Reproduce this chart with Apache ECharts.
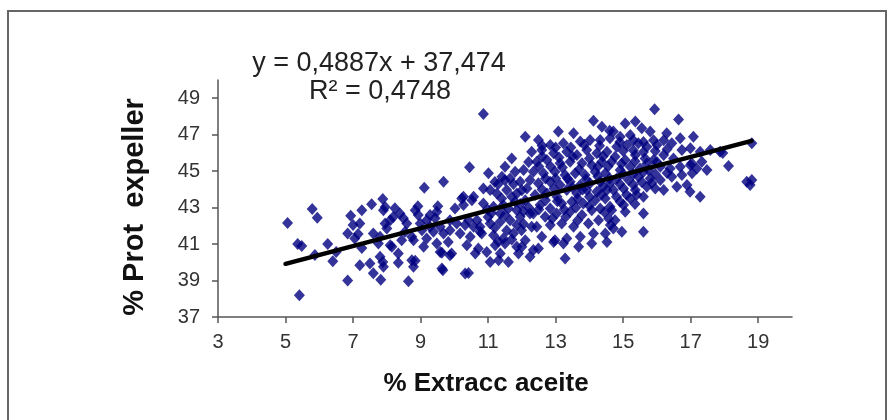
<!DOCTYPE html>
<html>
<head>
<meta charset="utf-8">
<script src="https://cdn.jsdelivr.net/npm/echarts@6/dist/echarts.min.js"></script>
<style>
  html, body { margin: 0; padding: 0; background: #fff; }
  #chart { width: 894px; height: 420px; }
</style>
</head>
<body>
<div id="chart"></div>
<script>
// puntos: [% extracc aceite, % prot expeller]
const samples = [
  [5.06,42.16],[5.79,42.92],[5.94,42.44],[5.36,41.0],[5.48,40.9],[6.25,41.0],[6.5,40.57],[6.4,40.06],
  [5.41,38.19],[6.84,39.0],[6.84,41.58],[6.93,42.56],[5.87,40.4],
  [9.68,44.42],[9.11,44.09],[7.88,43.47],[7.55,43.18],[7.26,42.86],[7.9,42.86],[8.92,43.08],[9.51,43.08],
  [8.64,38.96],[7.82,39.05],[7.6,39.4],[7.2,39.84],[7.5,39.93],[7.88,40.02],[7.9,39.75],[8.34,39.97],
  [8.79,39.75],[8.84,40.08],[9.66,39.57],[9.09,40.85],[9.63,40.52],[8.34,40.48],[8.1,40.94],[7.75,41.03],
  [7.26,40.79],[7.0,42.04],[7.2,42.13],[7.6,41.58],[7.8,41.4],[7.95,42.13],[8.0,41.86],[8.1,42.31],
  [8.19,42.49],[8.39,42.68],[8.49,42.41],[8.59,42.13],[8.54,41.67],[8.74,41.4],[8.99,42.13],[9.18,42.31],
  [9.28,41.95],[9.48,42.77],[9.43,42.41],[9.58,41.95],[9.68,41.58],[9.87,41.76],[8.93,42.59],[8.84,42.86],
  [7.95,43.04],[8.24,42.96],[9.28,42.59],[9.87,42.31],[9.04,41.76],[9.38,41.67],[9.18,41.31],[9.48,41.03],
  [9.82,41.12],[8.79,41.21],[8.44,41.21],[8.15,40.85],[9.58,40.57],[9.87,40.39],[9.63,39.66],[8.74,40.11],
  [7.8,40.3],[7.05,41.3],[7.15,41.55],
  [10.86,48.14],[12.1,46.89],[10.45,45.21],[11.7,45.7],[11.5,45.24],[11.8,44.97],[12.05,45.06],[11.01,44.88],
  [11.41,44.69],[11.65,44.6],[11.95,44.42],[12.24,44.51],[10.86,44.05],[11.06,43.96],[11.26,43.78],[11.55,43.96],
  [11.85,43.78],[12.15,44.05],[10.22,43.5],[10.52,43.41],[10.27,43.14],[10.02,42.95],[10.86,43.23],[11.16,43.05],
  [11.45,43.14],[11.8,43.32],[12.1,43.41],[10.32,42.04],[10.76,41.95],[11.06,42.13],[11.36,42.22],[11.65,42.31],
  [11.95,42.5],[12.24,42.68],[10.47,41.4],[10.81,41.58],[11.16,41.49],[11.45,41.31],[11.75,41.58],[11.99,41.76],
  [12.29,41.95],[10.37,40.94],[10.71,40.76],[11.21,40.94],[11.5,41.03],[11.85,40.85],[12.1,41.21],[10.62,40.48],
  [10.96,40.57],[11.36,40.48],[11.9,40.48],[12.24,40.3],[11.06,40.02],[11.31,40.11],[11.6,40.02],[10.32,39.38],
  [10.42,39.42],[10.07,42.13],[10.57,41.95],[10.67,42.31],[10.42,42.31],[10.17,41.58],[10.76,41.67],[11.0,42.49],
  [10.27,43.6],[10.57,43.6],[10.98,42.9],[9.92,40.48],[11.36,42.68],[11.85,42.86],[12.05,42.1],[11.6,42.95],
  [12.2,43.0],[11.3,44.3],[12.2,45.5],
  [11.2,44.4],[11.5,44.5],[11.75,44.3],[12.0,43.95],[11.4,43.5],[11.7,43.6],[11.95,43.2],[11.1,42.7],
  [11.5,42.6],[12.05,42.8],[11.2,41.9],[11.55,41.75],[11.85,42.05],[11.3,41.15],[11.7,41.25],[12.0,40.85],
  [14.12,47.77],[14.37,47.44],[14.6,47.22],[13.08,47.17],[13.53,47.08],[12.49,46.71],[12.84,46.43],[13.23,46.53],
  [13.73,46.62],[14.02,46.71],[14.32,46.71],[14.61,46.8],[12.29,46.07],[12.59,46.16],[12.94,45.98],[13.33,46.07],
  [13.63,45.88],[13.92,46.16],[14.22,45.98],[14.52,46.07],[12.44,45.52],[12.74,45.61],[13.13,45.43],[13.43,45.52],
  [13.78,45.43],[14.07,45.33],[14.37,45.52],[14.66,45.52],[12.34,44.97],[12.64,44.88],[12.98,44.97],[13.28,44.79],
  [13.58,44.88],[13.87,44.79],[14.17,44.97],[14.47,44.88],[12.49,44.33],[12.84,44.42],[13.13,44.24],[13.43,44.42],
  [13.73,44.24],[14.02,44.33],[14.32,44.42],[14.61,44.33],[12.39,43.69],[12.74,43.78],[13.04,43.6],[13.33,43.96],
  [13.63,43.78],[13.92,43.96],[14.22,43.87],[14.52,43.96],[12.54,43.14],[12.84,42.95],[13.18,43.23],[13.48,43.32],
  [13.82,43.23],[14.17,43.41],[14.47,43.5],[12.34,42.68],[12.69,42.5],[13.03,42.68],[13.43,42.77],[13.78,42.59],
  [14.07,42.86],[14.32,42.95],[14.61,43.05],[12.44,41.95],[12.84,42.04],[13.18,42.13],[13.53,41.95],[13.97,42.13],
  [14.27,42.31],[14.57,42.4],[12.59,41.4],[12.98,41.21],[13.33,41.31],[13.73,41.4],[14.12,41.58],[14.47,41.58],
  [12.49,40.76],[12.94,41.12],[13.23,41.03],[13.68,40.85],[14.07,41.03],[14.52,41.12],[13.28,40.21],[12.34,40.67],
  [12.6,46.4],[13.0,46.3],[13.45,46.3],[13.85,46.45],[14.3,46.4],[12.6,45.8],[13.1,45.75],[13.5,45.8],
  [14.0,45.7],[14.4,45.8],[12.5,45.25],[12.85,45.25],[13.2,45.2],[13.7,45.1],[14.25,45.25],[14.55,45.25],
  [12.7,44.6],[13.0,44.6],[13.35,44.6],[13.9,44.55],[14.25,44.7],[14.6,44.6],[12.6,44.0],[12.95,44.05],
  [13.5,44.1],[13.8,44.0],[14.4,44.15],[12.7,43.4],[13.05,43.35],[13.65,43.5],[14.0,43.6],[14.35,43.7],
  [12.5,42.9],[13.25,42.9],[13.6,43.0],[14.0,43.1],[12.9,42.4],[13.3,42.5],[13.65,42.3],[14.45,42.75],
  [15.93,48.39],[16.64,47.84],[15.06,47.62],[15.36,47.72],[15.55,47.35],[15.8,47.17],[17.08,46.89],[16.29,47.08],
  [16.69,46.8],[14.71,47.17],[14.91,46.89],[15.21,46.98],[14.81,46.34],[15.11,46.43],[15.45,46.53],[15.7,46.34],
  [16.0,46.43],[16.44,46.53],[16.74,46.16],[16.99,46.25],[14.76,45.79],[15.06,45.61],[15.36,45.88],[15.65,45.7],
  [15.9,45.61],[16.2,45.88],[16.49,45.7],[14.91,45.06],[15.21,45.24],[15.5,45.15],[15.75,45.06],[16.1,45.24],
  [16.39,45.15],[16.69,45.24],[16.99,45.33],[14.81,44.6],[15.16,44.51],[15.45,44.69],[15.8,44.6],[16.1,44.51],
  [16.44,44.69],[16.74,44.79],[17.04,44.88],[14.71,43.96],[15.01,44.05],[15.36,43.96],[15.7,44.15],[15.95,44.05],
  [16.2,43.96],[16.59,44.15],[16.89,44.24],[14.91,43.32],[15.21,43.5],[15.6,43.6],[14.66,42.86],[15.01,43.14],
  [15.06,42.77],[15.6,42.68],[14.76,42.31],[14.71,41.85],[14.96,41.67],[15.6,41.67],[14.62,42.04],
  [14.9,46.6],[15.3,46.7],[15.6,46.6],[15.9,46.7],[16.2,46.7],[15.0,46.1],[15.3,46.15],[15.6,46.05],
  [15.95,46.1],[16.3,46.2],[14.95,45.4],[15.35,45.55],[15.7,45.4],[16.0,45.5],[15.0,44.85],[15.3,44.85],
  [15.6,44.95],[15.95,44.85],[16.3,44.9],[14.9,44.3],[15.3,44.25],[15.55,44.4],[15.85,44.35],[15.1,43.7],
  [15.4,43.7],[14.8,43.6],[15.35,43.2],
  [17.87,46.07],[17.58,46.16],[17.28,46.07],[18.81,46.53],[18.12,45.28],[18.66,44.42],[18.81,44.51],[18.76,44.24],
  [17.28,43.6],[17.48,45.06],[17.33,45.52],[17.18,45.15],[17.03,45.43],[16.98,43.87],[17.95,46.0]
];

// recta de tendencia (tal como la da la ecuacion del grafico)
const trendSlope = 0.4887;
const trendIntercept = 37.474;
const trendRange = [5, 18.8];
const equationText = 'y = 0,4887x + 37,474';
const r2Text = 'R² = 0,4748';

const xTicks = [3, 5, 7, 9, 11, 13, 15, 17, 19];
const yTicks = [37, 39, 41, 43, 45, 47, 49];
const xTitle = '% Extracc aceite';
const yTitle = '% Prot  expeller';

const trendPoints = trendRange.map(x => [x, trendSlope * x + trendIntercept]);

const axisGrey = '#555';
const mainFont = '"Liberation Sans", Arial, sans-serif';

const chart = echarts.init(document.getElementById('chart'));
chart.setOption({
  animation: false,
  backgroundColor: '#fff',
  grid: { left: 218, right: 102, top: 80, bottom: 103 },
  xAxis: {
    type: 'value', min: 3, max: 20,
    axisLine: { show: true, lineStyle: { color: axisGrey, width: 1.5 } },
    axisTick: { show: true, length: 6, customValues: xTicks, lineStyle: { color: axisGrey, width: 1.5 } },
    axisLabel: { customValues: xTicks, margin: 15, fontSize: 20, color: '#333', fontFamily: mainFont },
    splitLine: { show: false }
  },
  yAxis: {
    type: 'value', min: 37, max: 50,
    axisLine: { show: true, lineStyle: { color: axisGrey, width: 1.5 } },
    axisTick: { show: true, length: 6, customValues: yTicks, lineStyle: { color: axisGrey, width: 1.5 } },
    axisLabel: { customValues: yTicks, margin: 18, fontSize: 20, color: '#333', fontFamily: mainFont },
    splitLine: { show: false }
  },
  series: [
    {
      type: 'scatter',
      data: samples,
      symbol: 'diamond',
      symbolSize: [11, 12],
      itemStyle: { color: '#000080' },
      z: 2
    },
    {
      type: 'line',
      data: trendPoints,
      showSymbol: false,
      lineStyle: { color: '#000', width: 4.5, cap: 'round' },
      z: 3
    }
  ],
  graphic: [
    {
      type: 'polyline',
      shape: { points: [[8, 420], [8, 11], [886, 11], [886, 420]] },
      style: { stroke: '#666', lineWidth: 2, fill: null }
    },
    {
      type: 'text', x: 379, y: 64,
      style: { text: equationText, font: '27px ' + mainFont, fill: '#222', align: 'center', verticalAlign: 'middle' }
    },
    {
      type: 'text', x: 380, y: 92,
      style: { text: r2Text, font: '27px ' + mainFont, fill: '#222', align: 'center', verticalAlign: 'middle' }
    },
    // titulos de los ejes
    {
      type: 'text', x: 486, y: 384,
      style: { text: xTitle, font: 'bold 26px ' + mainFont, fill: '#111', align: 'center', verticalAlign: 'middle' }
    },
    {
      type: 'text', x: 135, y: 207, rotation: Math.PI / 2,
      style: { text: yTitle, font: 'bold 29px ' + mainFont, fill: '#111', align: 'center', verticalAlign: 'middle' }
    }
  ]
});
</script>
</body>
</html>
